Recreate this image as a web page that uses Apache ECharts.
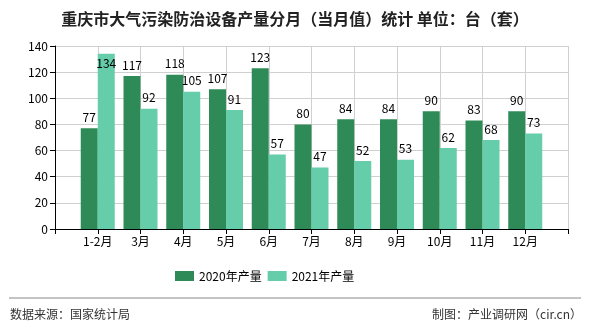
<!DOCTYPE html>
<html><head><meta charset="utf-8">
<script src="https://cdn.jsdelivr.net/npm/echarts@6/dist/echarts.min.js"></script>
<style>html,body{margin:0;padding:0;background:#fff}#c{width:590px;height:330px}</style>
</head><body><div id="c"></div>
<script>
const categories = ['1-2月','3月','4月','5月','6月','7月','8月','9月','10月','11月','12月'];
const seriesNames = ['2020年产量','2021年产量'];
const values2020 = [77,117,118,107,123,80,84,84,90,83,90];
const values2021 = [134,92,105,91,57,47,52,53,62,68,73];
const yTicks = [0,20,40,60,80,100,120,140];
const titleText = '重庆市大气污染防治设备产量分月（当月值）统计 单位：台（套）';
const sourceText = '数据来源：国家统计局';
const creditText = '制图：产业调研网（cir.cn）';

const FONT = '"Noto Sans CJK SC","Noto Sans",sans-serif';
const axisData = [''].concat(categories, ['']);
function pad(arr, yMax){
  const out = [null];
  arr.forEach(v => {
    if (v / yMax > 0.93) out.push({value: v, label: {position: 'insideTop', distance: 4}});
    else out.push(v);
  });
  out.push(null);
  return out;
}
const yMax = yTicks[yTicks.length-1];
const chart = echarts.init(document.getElementById('c'), null, {renderer:'canvas'});
chart.setOption({
  animation: false,
  backgroundColor: '#fff',
  title: {text: titleText, left: 'center', top: 6,
    textStyle: {fontSize: 16, fontWeight: 'bold', color: '#222', fontFamily: FONT}},
  legend: {bottom: 43, left: 170, itemWidth: 19, itemHeight: 10, itemGap: 6,
    textStyle: {fontSize: 12, color: '#000', fontFamily: FONT}, icon: 'rect'},
  grid: {left: 55, right: 22, top: 46, bottom: 101, containLabel: false},
  xAxis: {type: 'category', data: axisData, boundaryGap: false,
    axisLine: {lineStyle: {color: '#000'}},
    axisTick: {show: true, length: 5, lineStyle: {color: '#000'}},
    axisLabel: {fontSize: 12, color: '#000', fontFamily: FONT, margin: 6, interval: 0},
    splitLine: {show: true, lineStyle: {color: '#d0d0d0'}}},
  yAxis: {type: 'value', min: yTicks[0], max: yMax, interval: 20,
    axisLine: {show: true, lineStyle: {color: '#000'}},
    axisTick: {show: true, length: 5, lineStyle: {color: '#000'}},
    axisLabel: {fontSize: 12, color: '#000', fontFamily: FONT, margin: 7},
    splitLine: {lineStyle: {color: '#d0d0d0'}}},
  series: [
    {name: seriesNames[0], type: 'bar', data: pad(values2020, yMax), barWidth: 17, barGap: '0%',
      itemStyle: {color: '#2E8B57'},
      label: {show: true, position: 'top', fontSize: 12, color: '#000', fontFamily: FONT, distance: 5}},
    {name: seriesNames[1], type: 'bar', data: pad(values2021, yMax), barWidth: 17, barGap: '0%',
      itemStyle: {color: '#66CDAA'},
      label: {show: true, position: 'top', fontSize: 12, color: '#000', fontFamily: FONT, distance: 5}}
  ],
  graphic: [
    {type: 'line', shape: {x1: 9, y1: 298, x2: 581, y2: 298}, style: {stroke: '#888', lineWidth: 1}},
    {type: 'text', left: 10, top: 308, style: {text: sourceText, fontSize: 12, fill: '#333', fontFamily: FONT}},
    {type: 'text', right: 8, top: 308, style: {text: creditText, fontSize: 12, fill: '#333', fontFamily: FONT}}
  ]
});
</script></body></html>
